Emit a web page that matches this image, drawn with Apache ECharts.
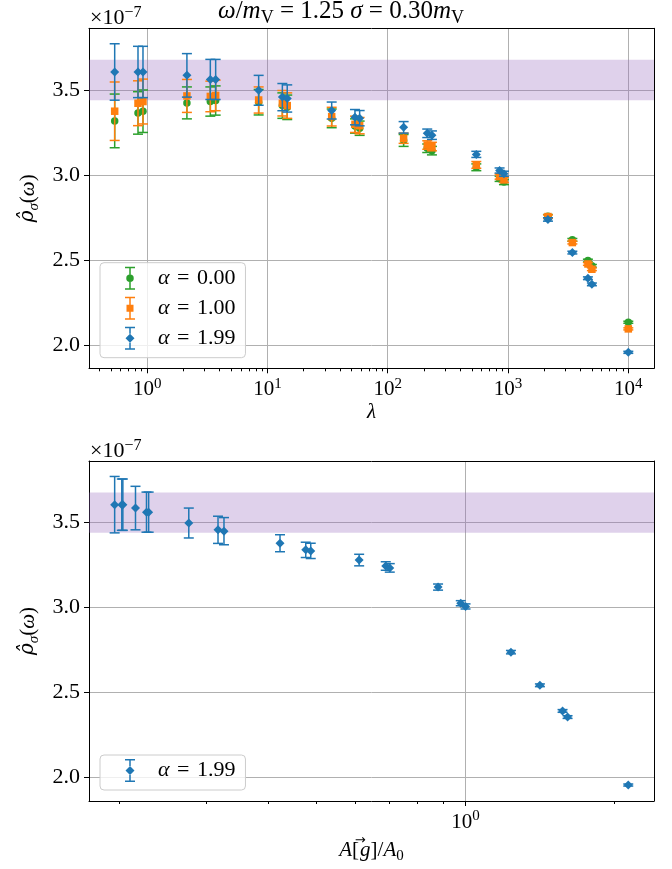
<!DOCTYPE html>
<html>
<head>
<meta charset="utf-8">
<script src="https://cdn.jsdelivr.net/npm/echarts@6/dist/echarts.min.js"></script>
<style>
html, body { margin: 0; padding: 0; background: #ffffff; }
#chart { width: 672px; height: 869px; }
</style>
</head>
<body>
<div id="chart"></div>
<script>
// Regularisation strength lambda for each reconstruction
const lambdas = [0.537, 0.839, 0.923, 2.14, 3.35, 3.71, 8.45, 13.3, 14.6, 34.2, 53.4, 58.4,
  135.5, 213, 233, 545, 851, 925, 2148, 3426, 4615, 4980, 10000];
// Normalised functional A[g]/A0 of the same reconstructions (alpha = 1.99)
const areaRatio = [0.1956, 0.2022, 0.2032, 0.2155, 0.2268, 0.2291, 0.2761, 0.3163, 0.3252,
  0.4220, 0.4756, 0.4868, 0.6097, 0.690, 0.703, 0.880, 0.978, 1.0, 1.235, 1.413, 1.570, 1.607, 2.131];

// Smeared spectral density, in units of 1e-7
const rhoAlpha000 = [3.318, 3.365, 3.375, 3.424, 3.432, 3.438, 3.428, 3.408, 3.398, 3.333, 3.288, 3.275,
  3.203, 3.157, 3.143, 3.045, 2.977, 2.958, 2.757, 2.618, 2.496, 2.465, 2.133];
const errAlpha000 = [0.158, 0.125, 0.125, 0.094, 0.086, 0.086, 0.075, 0.075, 0.072, 0.055, 0.042, 0.042,
  0.035, 0.025, 0.025, 0.020, 0.015, 0.015, 0.010, 0.008, 0.008, 0.008, 0.006];
const rhoAlpha100 = [3.375, 3.422, 3.432, 3.465, 3.462, 3.468, 3.441, 3.422, 3.408, 3.343, 3.298, 3.290,
  3.216, 3.176, 3.167, 3.059, 2.990, 2.971, 2.755, 2.602, 2.476, 2.445, 2.094];
const errAlpha100 = [0.172, 0.132, 0.132, 0.097, 0.090, 0.090, 0.077, 0.075, 0.075, 0.055, 0.048, 0.048,
  0.030, 0.025, 0.025, 0.020, 0.015, 0.015, 0.010, 0.008, 0.008, 0.008, 0.006];
const rhoAlpha199 = [3.606, 3.606, 3.606, 3.586, 3.562, 3.562, 3.498, 3.458, 3.450, 3.379, 3.340, 3.334,
  3.280, 3.245, 3.234, 3.121, 3.026, 3.007, 2.738, 2.543, 2.392, 2.356, 1.956];
const errAlpha199 = [0.166, 0.151, 0.151, 0.128, 0.118, 0.118, 0.088, 0.080, 0.080, 0.050, 0.045, 0.045,
  0.034, 0.025, 0.025, 0.018, 0.015, 0.015, 0.010, 0.008, 0.008, 0.008, 0.006];

// Reference band for the expected value
const bandLow = 3.44;
const bandHigh = 3.678;

// Tick values
const yTicks = [2.0, 2.5, 3.0, 3.5];
const lambdaTicks = [1, 10, 100, 1000, 10000];
const lambdaMinorTicks = [0.4, 0.5, 0.6, 0.7, 0.8, 0.9,
  2, 3, 4, 5, 6, 7, 8, 9, 20, 30, 40, 50, 60, 70, 80, 90,
  200, 300, 400, 500, 600, 700, 800, 900, 2000, 3000, 4000, 5000, 6000, 7000, 8000, 9000];
const areaTicks = [1];
const areaMinorTicks = [0.2, 0.3, 0.4, 0.5, 0.6, 0.7, 0.8, 0.9, 2];

const legendNames = ['α = 0.00', 'α = 1.00', 'α = 1.99'];

const BLUE = '#1f77b4', ORANGE = '#ff7f0e', GREEN = '#2ca02c';
const FONT = 'Liberation Serif';
const MARK_FONT = 'DejaVu Serif';
const FS = 21, FS_SMALL = 15;
const FS_TITLE = 25, FS_TITLE_SMALL = 18;

const zip = (xs, ys, es) => xs.map((x, i) => [x, ys[i], es[i]]);

// ---------- rich text styles (option level) ----------
const supRich = {
  b: { fontFamily: FONT, fontSize: FS, color: '#000', verticalAlign: 'bottom', padding: [3, 0, 0, 0] },
  s: { fontFamily: FONT, fontSize: FS_SMALL, color: '#000', verticalAlign: 'top' }
};
const subRich = {
  i: { fontFamily: FONT, fontSize: FS, fontStyle: 'italic', color: '#000', verticalAlign: 'top', padding: [0, 0, 3, 0] },
  hat: { fontFamily: MARK_FONT, fontSize: FS - 1, fontStyle: 'italic', color: '#000', verticalAlign: 'top', padding: [0, 0, 3, 0] },
  r: { fontFamily: FONT, fontSize: FS, color: '#000', verticalAlign: 'top', padding: [0, 0, 3, 0] },
  sub: { fontFamily: FONT, fontSize: FS_SMALL, color: '#000', verticalAlign: 'bottom' },
  subi: { fontFamily: FONT, fontSize: FS_SMALL, fontStyle: 'italic', color: '#000', verticalAlign: 'bottom' }
};
// label with a vector arrow: extra room above the letters, arrow drawn over the next glyph
const vecRich = {
  i: { fontFamily: FONT, fontSize: FS, fontStyle: 'italic', color: '#000', verticalAlign: 'top', padding: [6, 0, 3, 0] },
  r: { fontFamily: FONT, fontSize: FS, color: '#000', verticalAlign: 'top', padding: [6, 0, 3, 0] },
  arrow: { fontFamily: 'DejaVu Sans', fontSize: 13, color: '#000', verticalAlign: 'top', width: 0, padding: [0, 0, 0, 1] },
  sub: { fontFamily: FONT, fontSize: FS_SMALL, color: '#000', verticalAlign: 'bottom' }
};
// zrender level (graphic component)
const zTitleRich = {
  i: { fontFamily: FONT, fontSize: FS_TITLE, fontStyle: 'italic', fill: '#000', verticalAlign: 'top', padding: [0, 0, 3, 0] },
  r: { fontFamily: FONT, fontSize: FS_TITLE, fill: '#000', verticalAlign: 'top', padding: [0, 0, 3, 0] },
  sub: { fontFamily: FONT, fontSize: FS_TITLE_SMALL, fill: '#000', verticalAlign: 'bottom' }
};
const zSupRich = {
  b: { fontFamily: FONT, fontSize: FS + 1, fill: '#000', verticalAlign: 'bottom', padding: [3, 0, 0, 0] },
  s: { fontFamily: FONT, fontSize: FS_SMALL + 1, fill: '#000', verticalAlign: 'top' }
};

const pow10Label = v => '{b|10}{s|' + Math.round(Math.log10(v)) + '}';

// ---------- axes ----------
const GRID_TOP = [{ left: 89, right: 18, top: 28.3, height: 340 }, { left: 89, right: 18, top: 461, height: 340 }];
const Y_MIN = 1.862, Y_MAX = 3.863;
const X_RANGE = [[0.3284, 16352], [0.1736, 2.402]];

function mainX(g, ticks, name, nameGap, rich) {
  return {
    type: 'log', logBase: 10, gridIndex: g, min: X_RANGE[g][0], max: X_RANGE[g][1], position: 'bottom',
    name: name, nameLocation: 'middle', nameGap: nameGap,
    nameTextStyle: { fontFamily: FONT, fontSize: FS, color: '#000', rich: rich },
    axisLine: { show: true, onZero: false, lineStyle: { color: '#000', width: 1 } },
    axisTick: { show: true, length: 5, customValues: ticks, lineStyle: { color: '#000', width: 1 } },
    axisLabel: { show: true, customValues: ticks, margin: 8, formatter: pow10Label, rich: supRich },
    splitLine: { show: true, lineStyle: { color: '#b0b0b0', width: 1 } },
    minorTick: { show: false }, minorSplitLine: { show: false }
  };
}
function minorX(g, ticks) {
  return {
    type: 'log', logBase: 10, gridIndex: g, min: X_RANGE[g][0], max: X_RANGE[g][1], position: 'bottom',
    axisLine: { show: false },
    axisTick: { show: true, length: 3, customValues: ticks, lineStyle: { color: '#000', width: 1 } },
    axisLabel: { show: false }, splitLine: { show: false }
  };
}
function spineX(g) {
  return {
    type: 'log', logBase: 10, gridIndex: g, min: X_RANGE[g][0], max: X_RANGE[g][1], position: 'top',
    axisLine: { show: true, onZero: false, lineStyle: { color: '#000', width: 1 } },
    axisTick: { show: false }, axisLabel: { show: false }, splitLine: { show: false }
  };
}
function mainY(g) {
  return {
    type: 'value', gridIndex: g, min: Y_MIN, max: Y_MAX, position: 'left', splitNumber: 4,
    name: '{hat|ρ̂}{subi|σ}{r|(}{i|ω}{r|)}', nameLocation: 'middle', nameGap: 44, nameRotate: 90,
    nameTextStyle: { fontFamily: FONT, fontSize: FS, color: '#000', rich: subRich },
    axisLine: { show: true, onZero: false, lineStyle: { color: '#000', width: 1 } },
    axisTick: { show: true, length: 5, customValues: yTicks, lineStyle: { color: '#000', width: 1 } },
    axisLabel: { show: true, customValues: yTicks, margin: 9, fontFamily: FONT, fontSize: FS + 1, color: '#000',
      formatter: v => v.toFixed(1) },
    splitLine: { show: true, lineStyle: { color: '#b0b0b0', width: 1 } }
  };
}
function spineY(g) {
  return {
    type: 'value', gridIndex: g, min: Y_MIN, max: Y_MAX, position: 'right',
    axisLine: { show: true, onZero: false, lineStyle: { color: '#000', width: 1 } },
    axisTick: { show: false }, axisLabel: { show: false }, splitLine: { show: false }
  };
}

// ---------- series builders ----------
function errorBars(name, data, color, xi, yi, z) {
  return {
    type: 'custom', name: name, xAxisIndex: xi, yAxisIndex: yi, z: z, silent: true,
    data: data, encode: { x: 0, y: 1 },
    renderItem: function (params, api) {
      const x = api.value(0), y = api.value(1), e = api.value(2);
      const hi = api.coord([x, y + e]);
      const lo = api.coord([x, y - e]);
      const hw = 5;
      const st = { stroke: color, lineWidth: 1.5, fill: null };
      return {
        type: 'group', children: [
          { type: 'line', shape: { x1: hi[0], y1: hi[1], x2: lo[0], y2: lo[1] }, style: st },
          { type: 'line', shape: { x1: hi[0] - hw, y1: hi[1], x2: hi[0] + hw, y2: hi[1] }, style: st },
          { type: 'line', shape: { x1: lo[0] - hw, y1: lo[1], x2: lo[0] + hw, y2: lo[1] }, style: st }
        ]
      };
    }
  };
}
function markers(name, data, color, symbol, size, xi, yi, z) {
  return {
    type: 'scatter', name: name, xAxisIndex: xi, yAxisIndex: yi, z: z, silent: true,
    symbol: symbol, symbolSize: size,
    data: data.map(d => [d[0], d[1]]),
    itemStyle: { color: color, opacity: 1 }
  };
}
function band(xi, yi) {
  return {
    type: 'line', name: 'band', xAxisIndex: xi, yAxisIndex: yi, z: -1, silent: true,
    data: [], symbol: 'none',
    markArea: {
      silent: true,
      itemStyle: { color: 'rgba(148,103,189,0.3)' },
      data: [[{ yAxis: bandLow }, { yAxis: bandHigh }]]
    }
  };
}

const dataA0 = zip(lambdas, rhoAlpha000, errAlpha000);
const dataA1 = zip(lambdas, rhoAlpha100, errAlpha100);
const dataA2 = zip(lambdas, rhoAlpha199, errAlpha199);
const dataArea = zip(areaRatio, rhoAlpha199, errAlpha199);

// ---------- legend icons (error bar with marker) ----------
const caps = 'M0 0H10V1.5H0Z M0 21.5H10V23H0Z';
const barAround = (t, b) => `M4.25 1.5H5.75V${t}H4.25Z M4.25 ${b}H5.75V21.5H4.25Z`;
const iconCircle = 'path://' + caps + ' ' + barAround(7.75, 15.25) +
  ' M1.25 11.5A3.75 3.75 0 1 1 8.75 11.5A3.75 3.75 0 1 1 1.25 11.5Z';
const iconSquare = 'path://' + caps + ' ' + barAround(8, 15) + ' M1.5 8H8.5V15H1.5Z';
const iconDiamond = 'path://' + caps + ' ' + barAround(7, 16) + ' M5 7L9.5 11.5L5 16L0.5 11.5Z';

const legendRich = {
  pad: { width: 18 },
  i: { fontFamily: FONT, fontSize: FS + 1, fontStyle: 'italic', color: '#000' },
  eq: { fontFamily: FONT, fontSize: FS + 1, color: '#000', padding: [0, 2, 0, 2] },
  r: { fontFamily: FONT, fontSize: FS + 1, color: '#000' }
};
function legendBox(top, items) {
  return {
    show: true, orient: 'vertical', left: 100, top: top,
    itemWidth: 10, itemHeight: 23, itemGap: 7,
    padding: [4, 10, 8, 25],
    backgroundColor: 'rgba(255,255,255,0.8)', borderColor: '#cccccc', borderWidth: 1, borderRadius: 4,
    selectedMode: false,
    data: items,
    textStyle: { fontFamily: FONT, fontSize: FS + 1, color: '#000', lineHeight: 23, rich: legendRich },
    formatter: name => '{pad|}{i|α}{r| }{eq|=}{r| ' + name.split('= ')[1] + '}'
  };
}

const chart = echarts.init(document.getElementById('chart'), null, { renderer: 'canvas' });
chart.setOption({
  animation: false,
  backgroundColor: '#ffffff',
  grid: GRID_TOP.map(g => Object.assign({ show: false, containLabel: false }, g)),
  xAxis: [
    mainX(0, lambdaTicks, '{i|λ}', 34, subRich), spineX(0), minorX(0, lambdaMinorTicks),
    mainX(1, areaTicks, '{i|A}{r|[}{arrow|→}{i|g}{r|]/}{i|A}{sub|0}', 30, vecRich), spineX(1), minorX(1, areaMinorTicks)
  ],
  yAxis: [mainY(0), spineY(0), mainY(1), spineY(1)],
  legend: [
    legendBox(262.7, [
      { name: legendNames[0], icon: iconCircle },
      { name: legendNames[1], icon: iconSquare },
      { name: legendNames[2], icon: iconDiamond }
    ]),
    legendBox(755, [{ name: legendNames[2], icon: iconDiamond }])
  ],
  graphic: [
    {
      type: 'text', x: 341, y: 13, silent: true,
      style: {
        text: '{i|ω}{r|/}{i|m}{sub|V}{r| = 1.25 }{i|σ}{r| = 0.30}{i|m}{sub|V}',
        rich: zTitleRich, align: 'center', verticalAlign: 'middle'
      }
    },
    {
      type: 'text', x: 90, y: 17.2, silent: true,
      style: { text: '{b|×10}{s|−7}', rich: zSupRich, align: 'left', verticalAlign: 'middle' }
    },
    {
      type: 'text', x: 90, y: 449.9, silent: true,
      style: { text: '{b|×10}{s|−7}', rich: zSupRich, align: 'left', verticalAlign: 'middle' }
    }
  ],
  series: [
    band(0, 0),
    errorBars('α = 0.00 bars', dataA0, GREEN, 0, 0, 2),
    markers(legendNames[0], dataA0, GREEN, 'circle', 7.5, 0, 0, 3),
    errorBars('α = 1.00 bars', dataA1, ORANGE, 0, 0, 4),
    markers(legendNames[1], dataA1, ORANGE, 'rect', 7.5, 0, 0, 5),
    errorBars('α = 1.99 bars', dataA2, BLUE, 0, 0, 6),
    markers(legendNames[2], dataA2, BLUE, 'diamond', 9, 0, 0, 7),
    band(3, 2),
    errorBars('α = 1.99 bars (A)', dataArea, BLUE, 3, 2, 6),
    markers(legendNames[2], dataArea, BLUE, 'diamond', 9, 3, 2, 7)
  ]
});
</script>
</body>
</html>
